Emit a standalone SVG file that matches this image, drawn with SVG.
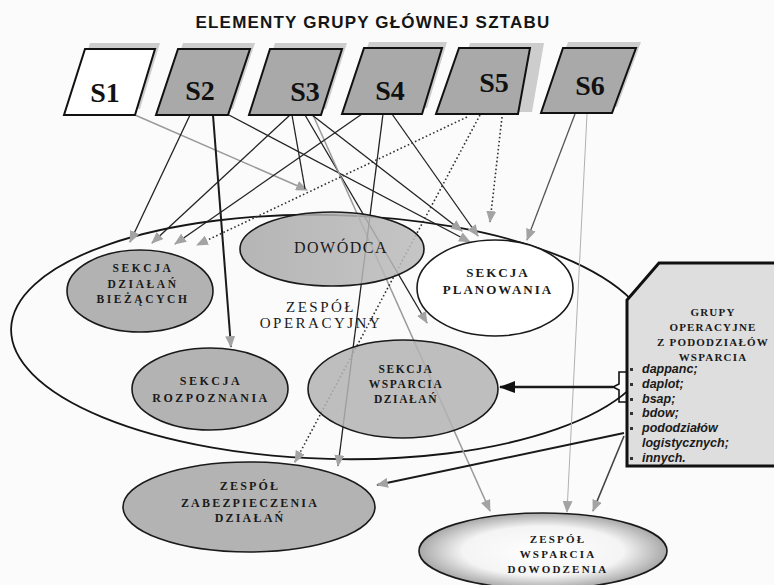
<svg xmlns="http://www.w3.org/2000/svg" width="774" height="585" viewBox="0 0 774 585">
<defs>
<style>
.title{font-family:"Liberation Sans",Arial,sans-serif;font-weight:bold;font-size:17px;letter-spacing:1.2px;fill:#151515;text-anchor:middle}
.sl{font-family:"Liberation Serif","Times New Roman",serif;font-weight:bold;font-size:28px;fill:#111;text-anchor:middle}
.box{stroke:#111;stroke-width:2;stroke-linejoin:miter}
.gbox{fill:#a9a9a9}
.shadow{fill:#cdcdcd;stroke:none}
.node{stroke:#1a1a1a;stroke-width:1.6}
.lbl{font-family:"Liberation Serif","Times New Roman",serif;font-weight:bold;fill:#1a1a1a;text-anchor:middle}
.reg{font-family:"Liberation Serif","Times New Roman",serif;fill:#1a1a1a;text-anchor:middle}
.bl{font-family:"Liberation Sans",Arial,sans-serif;font-weight:bold;font-style:italic;font-size:12.5px;fill:#1a1a1a}
.k{fill:none;stroke:#222;stroke-width:1.3}
.kt{fill:none;stroke:#1a1a1a;stroke-width:2}
.g{fill:none;stroke:#9a9a9a;stroke-width:1.5}
.gt{fill:none;stroke:#b0b0b0;stroke-width:1}
.d{fill:none;stroke:#333;stroke-width:1.6;stroke-dasharray:1.6 2.4}
</style>
<marker id="ag" viewBox="0 0 12 10" refX="11" refY="5" markerWidth="12" markerHeight="10" markerUnits="userSpaceOnUse" orient="auto">
<path d="M0,0 L12,5 L0,10 z" fill="#a3a3a3"/>
</marker>
<marker id="ab" viewBox="0 0 16 12" refX="15" refY="6" markerWidth="16" markerHeight="12" markerUnits="userSpaceOnUse" orient="auto">
<path d="M0,0 L16,6 L0,12 z" fill="#111"/>
</marker>
<radialGradient id="zwdg" cx="0.5" cy="0.5" r="0.5">
<stop offset="0" stop-color="#ffffff"/>
<stop offset="0.65" stop-color="#f4f4f4"/>
<stop offset="1" stop-color="#a8a8a8"/>
</radialGradient>
<linearGradient id="dowg" x1="0" y1="0" x2="1" y2="0">
<stop offset="0" stop-color="#a9a9a9"/>
<stop offset="1" stop-color="#bcbcbc"/>
</linearGradient>
</defs>
<rect width="774" height="585" fill="#fbfbfb"/>
<text class="title" x="373" y="28">ELEMENTY GRUPY GŁÓWNEJ SZTABU</text>

<g id="zespol-operacyjny">
<ellipse cx="332" cy="337" rx="321" ry="122" transform="rotate(1.5 332 337)" fill="none" stroke="#151515" stroke-width="1.8"/>
<text class="reg" style="font-size:15px;letter-spacing:2.5px" x="321" y="312">ZESPÓŁ</text>
<text class="reg" style="font-size:15px;letter-spacing:2.5px" x="321" y="328">OPERACYJNY</text>
</g>

<g id="connectors">
<path class="g" d="M135,115 L307,190" marker-end="url(#ag)"/>
<path class="k" d="M190,115 L130,242" marker-end="url(#ag)"/>
<path class="kt" d="M213,115 L231,347" marker-end="url(#ag)"/>
<path class="k" d="M227,114 L470,242" marker-end="url(#ag)"/>
<path class="k" d="M290,115 L152,243" marker-end="url(#ag)"/>
<path class="k" d="M292,115 L305,189"/>
<path class="k" d="M305,115 L427,323" marker-end="url(#ag)"/>
<path class="g" d="M313,115 L490,511" marker-end="url(#ag)"/>
<path class="k" d="M312,115 L462,231" marker-end="url(#ag)"/>
<path class="k" d="M362,114 L175,244" marker-end="url(#ag)"/>
<path class="k" d="M383,114 L338,466" marker-end="url(#ag)"/>
<path class="k" d="M392,114 L478,236" marker-end="url(#ag)"/>
<path class="d" d="M467,117 L197,245" marker-end="url(#ag)"/>
<path class="d" d="M480,115 L295,462" marker-end="url(#ag)"/>
<path class="d" d="M502,117 L490,222" marker-end="url(#ag)"/>
<path class="k" style="stroke:#555" d="M575,114 L527,240" marker-end="url(#ag)"/>
<path class="gt" d="M587,114 L567,512" marker-end="url(#ag)"/>
<path class="kt" d="M624,433 L377,485" marker-end="url(#ag)"/>
<path class="k" style="stroke:#444;stroke-width:1.6" d="M624,436 L593,511" marker-end="url(#ag)"/>
<path class="kt" style="stroke-width:2.6" d="M613,387 L500,387" marker-end="url(#ab)"/>
</g>

<g id="s1">
<polygon class="shadow" points="90,43 160,43 140,109 69,109"/>
<polygon class="box" fill="#ffffff" points="85,49 155,49 135,115 64,115"/>
<text class="sl" x="105" y="102">S1</text>
</g>
<g id="s2">
<polygon class="shadow" points="183,43 255,43 233,109 161,109"/>
<polygon class="box gbox" points="178,49 250,49 228,115 156,115"/>
<text class="sl" x="200" y="100">S2</text>
</g>
<g id="s3">
<polygon class="shadow" points="275,43 347,43 326,109 254,109"/>
<polygon class="box gbox" points="270,49 342,49 321,115 249,115"/>
<text class="sl" x="305" y="101">S3</text>
</g>
<g id="s4">
<polygon class="shadow" points="369,42 447,42 427,108 347,108"/>
<polygon class="box gbox" points="364,48 442,48 422,114 342,114"/>
<text class="sl" x="390" y="100">S4</text>
</g>
<g id="s5">
<polygon class="shadow" points="470,43 544,43 532,112 450,112"/>
<polygon class="box gbox" points="459,48 530,48 518,114 436,114"/>
<text class="sl" x="494" y="92">S5</text>
</g>
<g id="s6">
<polygon class="shadow" points="568,42 641,42 617,107 546,107"/>
<polygon class="box gbox" points="563,48 636,48 612,113 541,113"/>
<text class="sl" x="590" y="95">S6</text>
</g>

<g id="dowodca">
<ellipse class="node" cx="332" cy="249" rx="92" ry="37" fill="url(#dowg)" fill-opacity="0.85"/>
<text class="reg" style="font-size:16px;letter-spacing:1.5px" x="341" y="253">DOWÓDCA</text>
</g>
<g id="sekcja-dzialan-biezacych">
<ellipse class="node" cx="140" cy="291" rx="73" ry="41" fill="#a4a4a4" fill-opacity="0.85"/>
<text class="lbl" style="font-size:11.5px;letter-spacing:2.6px" x="143" y="272">SEKCJA</text>
<text class="lbl" style="font-size:11.5px;letter-spacing:2.6px" x="143" y="288">DZIAŁAŃ</text>
<text class="lbl" style="font-size:11.5px;letter-spacing:2.6px" x="143" y="303">BIEŻĄCYCH</text>
</g>
<g id="sekcja-planowania">
<ellipse class="node" cx="495" cy="288" rx="78" ry="48" fill="#ffffff" stroke-width="2"/>
<text class="lbl" style="font-size:13px;letter-spacing:2px" x="498" y="277">SEKCJA</text>
<text class="lbl" style="font-size:13px;letter-spacing:2px" x="498" y="294">PLANOWANIA</text>
</g>
<g id="sekcja-rozpoznania">
<ellipse class="node" cx="210" cy="389" rx="78" ry="41" fill="#a6a6a6" fill-opacity="0.85"/>
<text class="lbl" style="font-size:12px;letter-spacing:2.5px" x="211" y="385">SEKCJA</text>
<text class="lbl" style="font-size:12px;letter-spacing:2.5px" x="211" y="402">ROZPOZNANIA</text>
</g>
<g id="sekcja-wsparcia-dzialan">
<ellipse class="node" cx="403" cy="389" rx="95" ry="49" fill="#b3b3b3" fill-opacity="0.85"/>
<text class="lbl" style="font-size:11.5px;letter-spacing:1.6px" x="406" y="373">SEKCJA</text>
<text class="lbl" style="font-size:11.5px;letter-spacing:1.6px" x="406" y="388">WSPARCIA</text>
<text class="lbl" style="font-size:11.5px;letter-spacing:1.6px" x="406" y="403">DZIAŁAŃ</text>
</g>
<g id="zespol-zabezpieczenia-dzialan">
<ellipse class="node" cx="249" cy="507" rx="126" ry="45" fill="#a6a6a6" fill-opacity="0.85"/>
<text class="lbl" style="font-size:12px;letter-spacing:2.2px" x="250" y="490">ZESPÓŁ</text>
<text class="lbl" style="font-size:12px;letter-spacing:2.2px" x="250" y="507">ZABEZPIECZENIA</text>
<text class="lbl" style="font-size:12px;letter-spacing:2.2px" x="250" y="522">DZIAŁAŃ</text>
</g>
<g id="zespol-wsparcia-dowodzenia">
<ellipse class="node" cx="543" cy="551" rx="124" ry="38" fill="url(#zwdg)"/>
<text class="lbl" style="font-size:11px;letter-spacing:2.2px" x="558" y="543">ZESPÓŁ</text>
<text class="lbl" style="font-size:11px;letter-spacing:2.2px" x="558" y="558">WSPARCIA</text>
<text class="lbl" style="font-size:11px;letter-spacing:2.2px" x="558" y="573">DOWODZENIA</text>
</g>

<g id="grupy-operacyjne">
<polygon points="659,263 780,263 780,466 627,466 627,300" fill="#dedede" stroke="#111" stroke-width="3"/>
<text class="lbl" style="font-size:11px;letter-spacing:1.2px" x="713" y="316">GRUPY</text>
<text class="lbl" style="font-size:11px;letter-spacing:1.2px" x="713" y="331">OPERACYJNE</text>
<text class="lbl" style="font-size:11px;letter-spacing:1.2px" x="713" y="346">Z PODODZIAŁÓW</text>
<text class="lbl" style="font-size:11px;letter-spacing:1.2px" x="713" y="361">WSPARCIA</text>
<path d="M628,372 H619 V384 L613,387 L619,390 V402 H628" fill="none" stroke="#111" stroke-width="1.6"/>
<g fill="#333">
<rect x="630" y="368" width="3" height="3"/>
<rect x="630" y="383" width="3" height="3"/>
<rect x="630" y="398" width="3" height="3"/>
<rect x="630" y="412" width="3" height="3"/>
<rect x="630" y="427" width="3" height="3"/>
<rect x="630" y="457" width="3" height="3"/>
</g>
<text class="bl" x="642" y="373">dappanc;</text>
<text class="bl" x="642" y="388">daplot;</text>
<text class="bl" x="642" y="403">bsap;</text>
<text class="bl" x="642" y="417">bdow;</text>
<text class="bl" x="642" y="432">pododziałów</text>
<text class="bl" x="642" y="447">logistycznych;</text>
<text class="bl" x="642" y="462">innych.</text>
</g>
</svg>
